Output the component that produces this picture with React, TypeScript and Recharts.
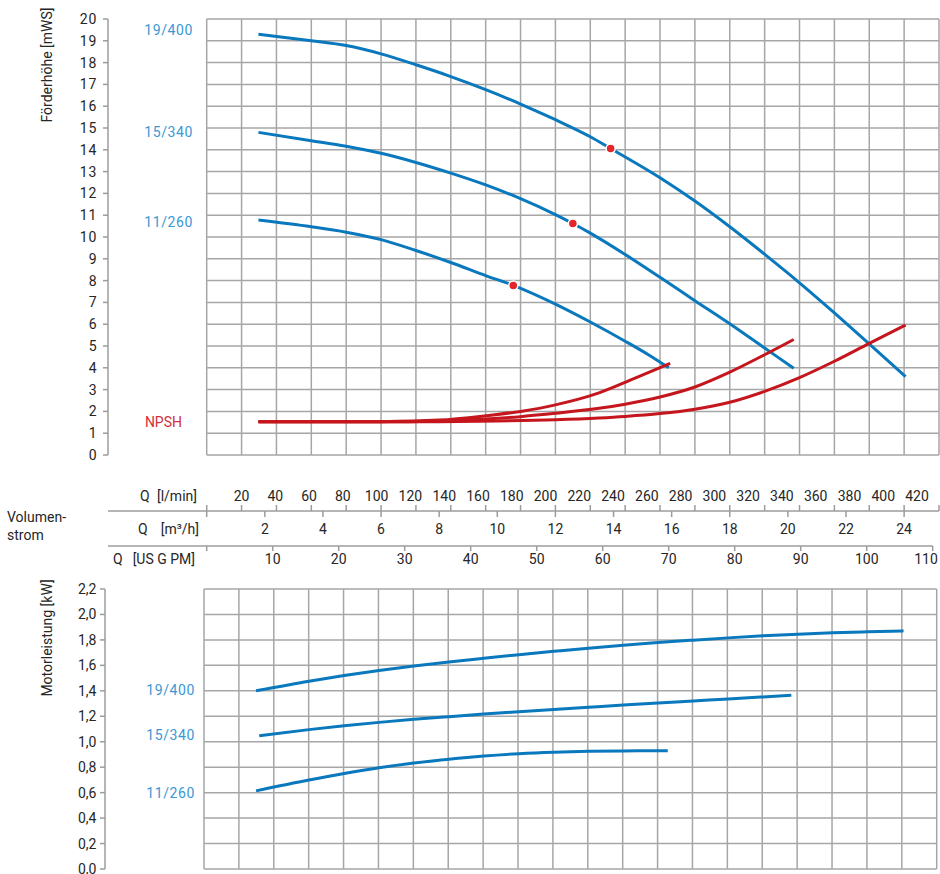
import React from "react";
import { ComposedChart, Line, Scatter, XAxis, YAxis, ReferenceLine } from "recharts";

// pump curves, Q in m³/h
const HEAD_19_400 = [
  { q: 1.78, h: 19.3 }, { q: 3.6, h: 19.0 }, { q: 4.8, h: 18.78 }, { q: 6.0, h: 18.4 },
  { q: 7.2, h: 17.9 }, { q: 8.4, h: 17.36 }, { q: 9.6, h: 16.76 }, { q: 10.8, h: 16.1 },
  { q: 12.0, h: 15.38 }, { q: 13.2, h: 14.6 }, { q: 13.9, h: 14.06 }, { q: 15.6, h: 12.72 },
  { q: 16.8, h: 11.65 }, { q: 18.0, h: 10.47 }, { q: 19.3, h: 9.1 }, { q: 20.4, h: 7.9 },
  { q: 21.6, h: 6.52 }, { q: 22.75, h: 5.16 }, { q: 24.05, h: 3.6 },
];
const HEAD_15_340 = [
  { q: 1.78, h: 14.8 }, { q: 3.6, h: 14.42 }, { q: 4.8, h: 14.16 }, { q: 6.0, h: 13.84 },
  { q: 7.2, h: 13.42 }, { q: 8.4, h: 12.93 }, { q: 9.6, h: 12.39 }, { q: 10.8, h: 11.76 },
  { q: 12.0, h: 11.03 }, { q: 12.6, h: 10.62 }, { q: 13.2, h: 10.18 }, { q: 14.4, h: 9.2 },
  { q: 15.6, h: 8.15 }, { q: 16.8, h: 7.08 }, { q: 18.0, h: 6.02 }, { q: 19.1, h: 5.0 },
  { q: 20.2, h: 3.98 },
];
const HEAD_11_260 = [
  { q: 1.78, h: 10.78 }, { q: 3.6, h: 10.47 }, { q: 4.8, h: 10.22 }, { q: 6.0, h: 9.88 },
  { q: 7.2, h: 9.38 }, { q: 8.4, h: 8.83 }, { q: 9.6, h: 8.23 }, { q: 10.55, h: 7.78 },
  { q: 12.0, h: 6.92 }, { q: 13.2, h: 6.1 }, { q: 14.4, h: 5.22 }, { q: 15.2, h: 4.6 },
  { q: 15.9, h: 4.0 },
];

const NPSH_11_260 = [
  { q: 1.78, h: 1.52 }, { q: 4.0, h: 1.52 }, { q: 6.0, h: 1.53 }, { q: 8.0, h: 1.6 },
  { q: 9.6, h: 1.8 }, { q: 10.8, h: 2.0 }, { q: 12.0, h: 2.3 }, { q: 13.5, h: 2.85 },
  { q: 14.7, h: 3.5 }, { q: 15.95, h: 4.2 },
];
const NPSH_15_340 = [
  { q: 1.78, h: 1.52 }, { q: 6.0, h: 1.52 }, { q: 8.0, h: 1.56 }, { q: 9.6, h: 1.65 },
  { q: 10.8, h: 1.76 }, { q: 12.0, h: 1.91 }, { q: 13.5, h: 2.14 }, { q: 14.4, h: 2.33 },
  { q: 15.6, h: 2.66 }, { q: 16.8, h: 3.12 }, { q: 18.0, h: 3.8 }, { q: 19.2, h: 4.6 },
  { q: 20.2, h: 5.3 },
];
const NPSH_19_400 = [
  { q: 1.78, h: 1.52 }, { q: 8.0, h: 1.53 }, { q: 10.0, h: 1.56 }, { q: 12.0, h: 1.62 },
  { q: 13.5, h: 1.7 }, { q: 14.4, h: 1.77 }, { q: 15.6, h: 1.9 }, { q: 16.8, h: 2.1 },
  { q: 18.0, h: 2.42 }, { q: 19.2, h: 2.92 }, { q: 20.4, h: 3.55 }, { q: 21.6, h: 4.3 },
  { q: 22.8, h: 5.12 }, { q: 24.05, h: 5.96 },
];

// best efficiency points
const DUTY_POINTS = [
  { q: 13.9, h: 14.06 },
  { q: 12.6, h: 10.62 },
  { q: 10.55, h: 7.78 },
];

const POWER_19_400 = [
  { q: 1.79, p: 1.4 }, { q: 3.61, p: 1.475 }, { q: 4.82, p: 1.52 }, { q: 6.02, p: 1.56 },
  { q: 7.22, p: 1.595 }, { q: 8.42, p: 1.627 }, { q: 9.62, p: 1.656 }, { q: 10.83, p: 1.684 },
  { q: 12.03, p: 1.71 }, { q: 13.22, p: 1.735 }, { q: 14.42, p: 1.758 }, { q: 15.61, p: 1.779 },
  { q: 16.82, p: 1.798 }, { q: 18.03, p: 1.816 }, { q: 19.23, p: 1.832 }, { q: 20.43, p: 1.845 },
  { q: 21.62, p: 1.856 }, { q: 22.83, p: 1.864 }, { q: 24.06, p: 1.871 },
];
const POWER_15_340 = [
  { q: 1.9, p: 1.047 }, { q: 3.61, p: 1.095 }, { q: 4.82, p: 1.125 }, { q: 6.02, p: 1.152 },
  { q: 7.22, p: 1.176 }, { q: 8.42, p: 1.197 }, { q: 9.62, p: 1.217 }, { q: 10.83, p: 1.236 },
  { q: 12.03, p: 1.254 }, { q: 13.22, p: 1.271 }, { q: 14.42, p: 1.288 }, { q: 15.61, p: 1.304 },
  { q: 16.82, p: 1.32 }, { q: 18.03, p: 1.336 }, { q: 19.23, p: 1.352 }, { q: 20.2, p: 1.365 },
];
const POWER_11_260 = [
  { q: 1.79, p: 0.614 }, { q: 3.61, p: 0.699 }, { q: 4.82, p: 0.75 }, { q: 6.02, p: 0.795 },
  { q: 7.22, p: 0.832 }, { q: 8.42, p: 0.862 }, { q: 9.62, p: 0.887 }, { q: 10.83, p: 0.906 },
  { q: 12.03, p: 0.918 }, { q: 13.22, p: 0.925 }, { q: 14.42, p: 0.928 }, { q: 15.61, p: 0.929 },
  { q: 15.95, p: 0.929 },
];

const LMIN_TICKS = [0, 20, 40, 60, 80, 100, 120, 140, 160, 180, 200, 220, 240, 260, 280, 300, 320, 340, 360, 380, 400, 420];
const M3H_TICKS = [0, 2, 4, 6, 8, 10, 12, 14, 16, 18, 20, 22, 24];
const GPM_TICKS = [0, 10, 20, 30, 40, 50, 60, 70, 80, 90, 100, 110];
const HEAD_TICKS = [0, 1, 2, 3, 4, 5, 6, 7, 8, 9, 10, 11, 12, 13, 14, 15, 16, 17, 18, 19, 20];
const POWER_TICKS = [0, 0.2, 0.4, 0.6, 0.8, 1.0, 1.2, 1.4, 1.6, 1.8, 2.0, 2.2];

const Q_MAX = 25.2; // = 420 l/min
const LMIN_TO_M3H = 0.06;
const GRID_Q = LMIN_TICKS.map((l) => l * LMIN_TO_M3H);

const W = 940;
const BLUE = "#0a78bd";
const RED = "#c5161d";
const LABEL_BLUE = "#3a98d6";
const LABEL_RED = "#d2303a";
const GRID = "#a6a6a6";
const AXIS = "#9c9c9c";
const TEXT = "#262626";
const FONT = "Roboto, 'Noto Sans', sans-serif";
const LMIN_LABEL_SHIFT = -0.055; // labels drift left in the original print
const STRIP_TOP = 50; // axis line offset inside a scale strip

function LminTick({ x, y, payload }: any) {
  const v = payload.value as number;
  return (
    <g>
      <line x1={x} x2={x} y1={y - 6} y2={y} stroke={AXIS} strokeWidth={1.5} />
      {v > 0 && (
        <text x={x + LMIN_LABEL_SHIFT * (v - 20)} y={y - 15} dy="0.36em" textAnchor="middle" fontSize={14} fill={TEXT}>
          {v}
        </text>
      )}
    </g>
  );
}

function M3hTick({ x, y, payload }: any) {
  const v = payload.value as number;
  return (
    <g>
      <line x1={x} x2={x} y1={y} y2={y + 6} stroke={AXIS} strokeWidth={1.5} />
      {v > 0 && (
        <text x={x} y={y + 18} dy="0.36em" textAnchor="middle" fontSize={14} fill={TEXT}>
          {v}
        </text>
      )}
    </g>
  );
}

function GpmTick({ x, y, payload }: any) {
  const v = payload.value as number;
  return (
    <g>
      <line x1={x} x2={x} y1={y} y2={y + 5} stroke={AXIS} strokeWidth={1.5} />
      {v > 0 && (
        <text x={Math.min(x, W - 14)} y={y + 13} dy="0.36em" textAnchor="middle" fontSize={14} fill={TEXT}>
          {v}
        </text>
      )}
    </g>
  );
}

// one flow-rate scale below the head chart; lineY is where its axis line sits on the page
function ScaleStrip({ lineY, ticks, domain, right, tick, showLine }: any) {
  const data = ticks.map((v: number) => ({ v }));
  return (
    <div style={{ position: "absolute", left: 0, top: lineY - STRIP_TOP }}>
      <ComposedChart width={W} height={STRIP_TOP + 30} data={data} margin={{ top: STRIP_TOP - 10, right, bottom: 0, left: 108 }}>
        <XAxis
          dataKey="v"
          type="number"
          domain={domain}
          allowDataOverflow
          ticks={ticks}
          interval={0}
          padding={{ left: 98.7, right: 0 }}
          height={30}
          axisLine={showLine ? { stroke: AXIS, strokeWidth: 1.5 } : false}
          tickLine={false}
          tickSize={0}
          tickMargin={0}
          tick={tick}
        />
      </ComposedChart>
    </div>
  );
}

function Tag({ x, y, color = TEXT, anchor = "end", spacing = 0, children }: any) {
  const style: React.CSSProperties = {
    position: "absolute",
    top: y,
    transform: "translateY(-50%)",
    color,
    fontSize: 14,
    lineHeight: "16px",
    whiteSpace: "nowrap",
    letterSpacing: spacing,
  };
  if (anchor === "end") style.right = W - x;
  else style.left = x;
  return <div style={style}>{children}</div>;
}

function VTitle({ x, y, children }: any) {
  return (
    <div
      style={{
        position: "absolute",
        left: x,
        top: y,
        transform: "translate(-50%, -50%) rotate(-90deg)",
        fontSize: 14,
        color: TEXT,
        whiteSpace: "nowrap",
      }}
    >
      {children}
    </div>
  );
}

function HeadChart() {
  return (
    <ComposedChart width={W} height={470} margin={{ top: 19, right: 1, bottom: 15, left: 0 }}>
      <XAxis
        xAxisId="q"
        dataKey="q"
        type="number"
        domain={[0, Q_MAX]}
        allowDataOverflow
        padding={{ left: 98.7, right: 0 }}
        hide
      />
      <YAxis
        yAxisId="h"
        dataKey="h"
        type="number"
        domain={[0, 20]}
        allowDataOverflow
        ticks={HEAD_TICKS}
        interval={0}
        width={108}
        tickSize={5}
        tickMargin={5.5}
        axisLine={{ stroke: AXIS, strokeWidth: 1.5 }}
        tickLine={{ stroke: AXIS, strokeWidth: 1.5 }}
        tick={{ fontSize: 14, fill: TEXT, letterSpacing: 1 }}
      />

      {GRID_Q.map((q) => (
        <ReferenceLine
          key={`v${q}`}
          xAxisId="q"
          yAxisId="h"
          segment={[{ x: q, y: 0 }, { x: q, y: 20 }]}
          stroke={GRID}
          strokeWidth={1.5}
          ifOverflow="visible"
          zIndex={-100}
        />
      ))}
      {HEAD_TICKS.map((h) => (
        <ReferenceLine
          key={`h${h}`}
          xAxisId="q"
          yAxisId="h"
          segment={[{ x: 0, y: h }, { x: Q_MAX, y: h }]}
          stroke={GRID}
          strokeWidth={1.5}
          ifOverflow="visible"
          zIndex={-100}
        />
      ))}

      {[HEAD_19_400, HEAD_15_340, HEAD_11_260].map((d, i) => (
        <Line key={`H${i}`} xAxisId="q" yAxisId="h" data={d} dataKey="h" type="monotone" stroke={BLUE} strokeWidth={3} dot={false} isAnimationActive={false} />
      ))}
      {[NPSH_19_400, NPSH_15_340, NPSH_11_260].map((d, i) => (
        <Line key={`N${i}`} xAxisId="q" yAxisId="h" data={d} dataKey="h" type="monotone" stroke={RED} strokeWidth={3} dot={false} isAnimationActive={false} />
      ))}
      <Scatter xAxisId="q" yAxisId="h" data={DUTY_POINTS} fill="#e4262a" stroke="#ffffff" strokeWidth={1.5} isAnimationActive={false} />
    </ComposedChart>
  );
}

function PowerChart() {
  return (
    <ComposedChart width={W} height={294} margin={{ top: 9, right: 3.3, bottom: 5, left: 0 }}>
      <XAxis
        xAxisId="q"
        dataKey="q"
        type="number"
        domain={[0, Q_MAX]}
        allowDataOverflow
        padding={{ left: 99, right: 0 }}
        hide
      />
      <YAxis
        yAxisId="p"
        dataKey="p"
        type="number"
        domain={[0, 2.2]}
        allowDataOverflow
        ticks={POWER_TICKS}
        interval={0}
        width={105}
        tickSize={5}
        tickMargin={3.5}
        axisLine={{ stroke: AXIS, strokeWidth: 1.5 }}
        tickLine={{ stroke: AXIS, strokeWidth: 1.5 }}
        tick={{ fontSize: 14, fill: TEXT }}
        tickFormatter={(v: number) => v.toFixed(1).replace(".", ",")}
      />

      {GRID_Q.map((q) => (
        <ReferenceLine
          key={`v${q}`}
          xAxisId="q"
          yAxisId="p"
          segment={[{ x: q, y: 0 }, { x: q, y: 2.2 }]}
          stroke={GRID}
          strokeWidth={1.5}
          ifOverflow="visible"
          zIndex={-100}
        />
      ))}
      {POWER_TICKS.map((p) => (
        <ReferenceLine
          key={`h${p}`}
          xAxisId="q"
          yAxisId="p"
          segment={[{ x: 0, y: p }, { x: Q_MAX, y: p }]}
          stroke={GRID}
          strokeWidth={1.5}
          ifOverflow="visible"
          zIndex={-100}
        />
      ))}

      {[POWER_19_400, POWER_15_340, POWER_11_260].map((d, i) => (
        <Line key={`P${i}`} xAxisId="q" yAxisId="p" data={d} dataKey="p" type="monotone" stroke={BLUE} strokeWidth={3} dot={false} isAnimationActive={false} />
      ))}
    </ComposedChart>
  );
}

export default function App() {
  return (
    <div style={{ position: "absolute", left: 0, top: 0, width: W, height: 874, background: "#fff", fontFamily: FONT, overflow: "hidden" }}>
      <div style={{ position: "absolute", left: 0, top: 0 }}>
        <HeadChart />
      </div>

      <ScaleStrip lineY={511} ticks={LMIN_TICKS} domain={[0, 420]} right={1} tick={(p: any) => <LminTick {...p} />} showLine={false} />
      <ScaleStrip lineY={511} ticks={M3H_TICKS} domain={[0, Q_MAX]} right={1} tick={(p: any) => <M3hTick {...p} />} showLine />
      <ScaleStrip lineY={546} ticks={GPM_TICKS} domain={[0, 110]} right={7.3} tick={(p: any) => <GpmTick {...p} />} showLine />

      <div style={{ position: "absolute", left: 0, top: 580 }}>
        <PowerChart />
      </div>

      <VTitle x={47} y={65}>Förderhöhe [mWS]</VTitle>
      <VTitle x={47} y={638}>Motorleistung [kW]</VTitle>

      <Tag x={193} y={30} color={LABEL_BLUE} spacing={0.6}>19/400</Tag>
      <Tag x={193} y={132} color={LABEL_BLUE} spacing={0.6}>15/340</Tag>
      <Tag x={193} y={222} color={LABEL_BLUE} spacing={0.6}>11/260</Tag>
      <Tag x={182} y={421.5} color={LABEL_RED}>NPSH</Tag>

      <Tag x={195} y={690} color={LABEL_BLUE} spacing={0.6}>19/400</Tag>
      <Tag x={195} y={735} color={LABEL_BLUE} spacing={0.6}>15/340</Tag>
      <Tag x={195} y={793} color={LABEL_BLUE} spacing={0.6}>11/260</Tag>

      <Tag x={7} y={517} anchor="start">Volumen-</Tag>
      <Tag x={7} y={535} anchor="start">strom</Tag>

      <Tag x={140} y={496} anchor="start">Q</Tag>
      <Tag x={197} y={496}>[l/min]</Tag>
      <Tag x={138} y={529} anchor="start">Q</Tag>
      <Tag x={199} y={529}>[m³/h]</Tag>
      <Tag x={113} y={559} anchor="start">Q</Tag>
      <Tag x={195} y={559}>[US G PM]</Tag>
    </div>
  );
}
